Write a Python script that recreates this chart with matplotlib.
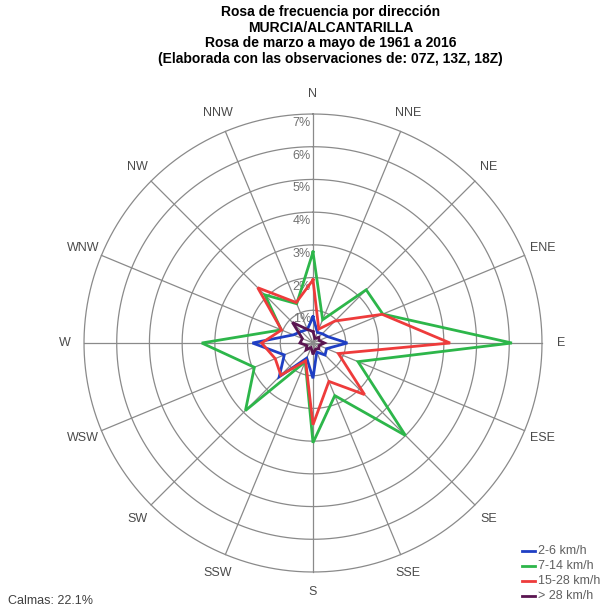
import numpy as np
import matplotlib
matplotlib.use("Agg")
import matplotlib.pyplot as plt
from matplotlib.transforms import offset_copy

plt.rcParams['font.family'] = ['Liberation Sans', 'DejaVu Sans']

# ---------------- data (frequency %, per direction) ----------------
directions = ["N", "NNE", "NE", "ENE", "E", "ESE", "SE", "SSE",
              "S", "SSW", "SW", "WSW", "W", "WNW", "NW", "NNW"]
blue_2_6 = [0.80, 0.35, 0.40, 0.50, 1.05, 0.45, 0.52, 0.30,
            1.08, 0.50, 1.46, 0.95, 1.85, 0.65, 0.50, 0.45]
green_7_14 = [2.78, 0.77, 2.30, 2.31, 6.08, 1.49, 4.00, 1.74,
              3.05, 0.62, 2.92, 1.94, 3.40, 1.05, 2.08, 1.30]
red_15_28 = [1.93, 0.46, 0.95, 2.29, 4.19, 0.84, 2.23, 1.27,
             2.50, 0.59, 1.39, 1.25, 1.57, 1.04, 2.39, 1.34]
purple_28 = [0.35, 0.15, 0.25, 0.20, 0.35, 0.20, 0.25, 0.20,
             0.35, 0.15, 0.30, 0.20, 0.40, 0.35, 0.89, 0.45]
ring_levels = [1, 2, 3, 4, 5, 6, 7]
legend_labels = ["2-6 km/h", "7-14 km/h", "15-28 km/h", "> 28 km/h"]
title_lines = ["Rosa de frecuencia por dirección",
               "MURCIA/ALCANTARILLA",
               "Rosa de marzo a mayo de 1961 a 2016",
               "(Elaborada con las observaciones de: 07Z, 13Z, 18Z)"]
calmas = "Calmas: 22.1%"

colors = ["#1f3fc4", "#2db64a", "#ee3b3b", "#5a1550"]
series = [blue_2_6, green_7_14, red_15_28, purple_28]

fig = plt.figure(figsize=(6.07, 6.10), dpi=100)
ax = fig.add_axes([0.1384, 0.0623, 0.7545, 0.7508], projection='polar')
ax.set_theta_zero_location('N')
ax.set_theta_direction(-1)
ax.set_ylim(0, ring_levels[-1])
ax.axis('off')

theta = np.deg2rad(np.arange(len(directions)) * 22.5)

# grid: circles and spokes
circ = np.linspace(0, 2 * np.pi, 400)
for lev in ring_levels:
    ax.plot(circ, np.full_like(circ, lev), color="#8a8a8a", lw=0.9, zorder=1,
            clip_on=False)
for t in theta:
    ax.plot([t, t], [0, ring_levels[-1]], color="#8a8a8a", lw=0.9, zorder=1,
            clip_on=False)

# ring labels left of the N spoke
lab_tr = offset_copy(ax.transData, fig=fig, x=-2, y=-3, units='dots')
for lev in ring_levels:
    ax.text(0, lev, f"{lev}%", transform=lab_tr, ha='right', va='top',
            fontsize=9, color="#707070", zorder=2)

# direction labels
for t, d in zip(theta, directions):
    ax.text(t, 7.6, d, ha='center', va='center', fontsize=9,
            color="#4a4a4a", clip_on=False)

# the rose
for vals, col in zip(series, colors):
    v = list(vals) + [vals[0]]
    th = list(theta) + [theta[0]]
    ax.plot(th, v, color=col, lw=2.0, zorder=3, solid_joinstyle='miter')

# title
for i, line in enumerate(title_lines):
    fig.text(0.545, 1 - (12 + 15.5 * i) / 610, line, ha='center', va='center',
             fontsize=10, fontweight='bold', color="black")

# legend (hand placed, bottom right)
for i, (lab, col) in enumerate(zip(legend_labels, colors)):
    y = 1 - (551 + 15 * i) / 610
    fig.add_artist(plt.Line2D([522 / 607, 535 / 607], [y, y], color=col, lw=2.0,
                              transform=fig.transFigure))
    fig.text(538 / 607, y, lab, ha='left', va='center', fontsize=9, color="#606060")

fig.text(8 / 607, 1 - 601 / 610, calmas, ha='left', va='center', fontsize=9,
         color="#404040")

fig.savefig("out.png", dpi=100)
